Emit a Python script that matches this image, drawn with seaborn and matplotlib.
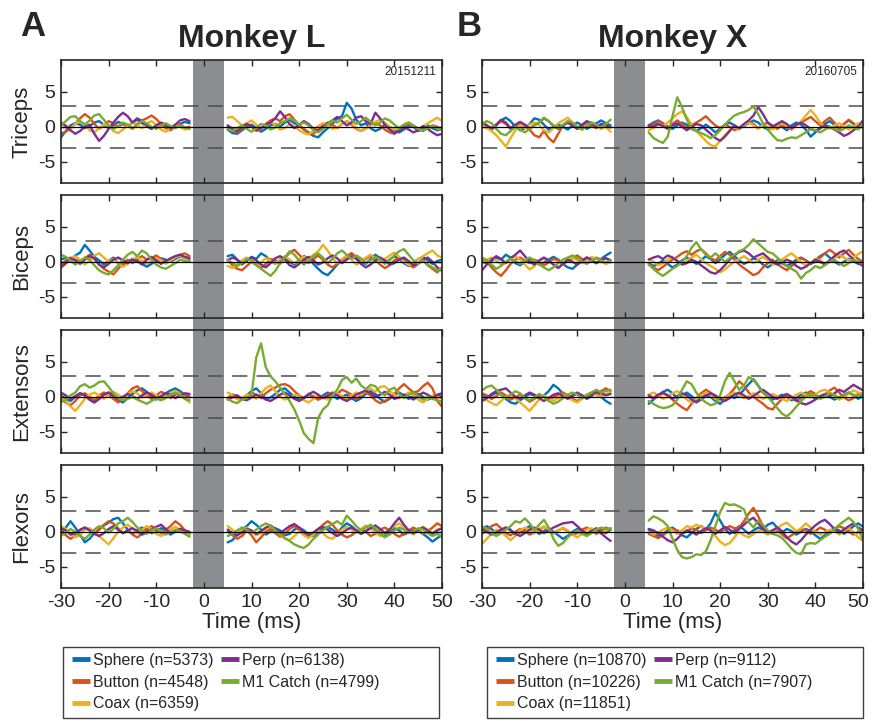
import numpy as np
import pandas as pd
import matplotlib
matplotlib.use("Agg")
import matplotlib.pyplot as plt
from matplotlib.patches import Rectangle
from matplotlib.lines import Line2D
from matplotlib.transforms import blended_transform_factory, ScaledTranslation
import seaborn as sns

conditions = ["Sphere", "Button", "Coax", "Perp", "M1 Catch"]
colors = ["#0072BD", "#D95319", "#EDB120", "#7E2F8E", "#77AC30"]
muscles = ["Triceps", "Biceps", "Extensors", "Flexors"]
monkeys = ["Monkey L", "Monkey X"]
letters = ["A", "B"]
dates = ["20151211", "20160705"]
counts_L = [5373, 4548, 6359, 6138, 4799]
counts_X = [10870, 10226, 11851, 9112, 7907]

pre_start = -30   # first sample (ms) before stim, 1 ms steps
post_start = 5    # first sample (ms) after stim
stim_lo, stim_hi = -2.3, 4.2
thresh = 3
xticks = [-30, -20, -10, 0, 10, 20, 30, 40, 50]
yticks = [-5, 0, 5]

# condition -> (pre samples, post samples)
L_TRICEPS = {
    "Sphere": ([-1.5,-0.6,0.2,0.5,0.3,-0.2,0.1,0.6,0.8,0.3,-0.2,0.2,0.7,0.4,0.0,0.6,1.0,0.5,0.1,-0.3,0.2,0.5,0.1,-0.4,0.0,0.4,0.7,0.5],
               [-0.4,-0.9,-1.0,-0.5,0.0,0.3,-0.2,-0.7,-0.3,0.2,0.4,0.0,0.6,1.0,0.5,0.2,-0.4,-0.9,-1.3,-1.5,-0.8,-0.2,0.4,1.2,1.5,3.4,2.6,1.0,0.2,0.5,-0.2,-0.6,-0.3,0.3,0.0,-0.5,-0.8,-0.4,0.2,0.0,-0.6,-0.3,0.2,-0.2,-0.5,-0.3]),
    "Button": ([-1.0,-0.7,-0.2,0.4,1.2,1.8,1.3,0.4,-0.3,0.2,0.8,0.5,0.0,0.4,0.2,-0.3,0.3,0.9,1.2,1.6,1.1,0.4,-0.2,-0.5,0.1,0.3,-0.1,0.0],
               [0.0,-0.5,-0.8,-0.2,0.3,0.0,-0.6,-0.3,0.4,0.9,1.2,0.8,1.5,1.8,1.0,0.2,-0.3,-0.8,-1.0,-0.4,0.2,0.6,0.3,-0.2,0.4,0.8,0.3,-0.3,-0.6,-0.2,0.3,0.6,0.2,-0.4,-0.8,-1.0,-0.5,0.0,0.4,0.1,-0.3,-0.6,-0.2,0.2,0.0,-0.3]),
    "Coax": ([0.5,0.2,-0.3,0.4,0.8,0.3,-0.5,-0.8,-0.2,0.4,0.1,-0.6,-0.9,-0.4,0.2,0.6,0.3,-0.2,0.5,0.8,0.3,-0.4,-0.7,-0.2,0.3,0.0,-0.4,-0.2],
             [1.3,1.4,0.8,0.2,0.5,0.9,0.3,-0.3,0.2,0.6,0.3,-0.4,-0.2,0.4,0.0,-0.5,-0.9,-1.1,-0.6,0.1,0.5,0.2,-0.3,-0.1,0.4,0.8,0.5,-0.2,-0.6,-0.3,0.2,0.7,1.0,0.6,0.0,-0.4,-0.2,0.3,0.6,0.2,-0.3,0.0,0.5,0.9,1.3,0.8]),
    "Perp": ([0.6,0.1,-0.5,-1.0,-0.6,0.0,0.3,-1.0,-2.0,-1.3,-0.3,0.6,1.4,2.0,1.5,0.6,1.2,0.8,0.2,-0.3,0.2,0.6,0.3,-0.2,0.3,0.9,1.1,0.8],
             [0.2,-0.3,-0.6,0.0,0.4,0.1,-0.4,-0.2,0.3,0.6,1.2,2.2,1.4,0.4,-0.2,0.3,0.8,0.4,-0.3,-0.6,0.0,0.5,0.9,1.4,0.8,0.2,0.6,1.3,1.5,0.8,0.4,2.0,1.2,0.3,-0.4,-0.9,-0.6,0.0,-0.4,-0.8,-0.5,0.1,-0.3,-0.8,-1.2,-1.0]),
    "M1 Catch": ([0.2,0.8,1.4,1.5,0.8,0.3,0.9,1.6,1.8,1.0,0.2,-0.3,0.1,0.6,0.3,-0.2,0.4,0.8,0.5,0.0,-0.3,0.2,0.5,0.1,-0.2,0.2,-0.1,-0.3],
                 [-0.3,-0.6,-0.2,0.2,-0.3,-0.7,-0.2,0.4,0.2,-0.4,-0.1,0.5,0.8,1.2,0.9,0.3,0.6,0.2,-0.5,-0.8,-0.3,0.4,0.9,0.6,1.2,1.7,1.0,0.4,0.8,1.3,0.7,0.2,0.6,1.2,0.9,0.3,-0.2,0.3,0.6,0.2,-0.3,-0.5,-0.2,0.1,-0.3,-0.4]),
}

L_BICEPS = {
    "Sphere": ([0.3,0.6,0.2,0.9,1.3,2.4,1.6,0.7,0.2,-0.4,0.1,0.6,-0.2,-0.6,0.0,0.4,0.2,-0.3,-0.7,-0.3,0.2,0.5,0.3,0.0,0.4,0.8,0.5,0.2],
               [0.8,1.0,0.3,-0.4,0.2,0.7,0.4,1.2,0.8,0.1,-0.3,0.2,0.5,0.0,-0.4,0.3,0.8,0.5,-0.3,-1.0,-1.6,-1.9,-1.2,-0.4,0.2,0.8,1.2,0.6,0.0,-0.3,0.4,1.0,0.5,-0.2,0.3,0.8,0.4,-0.2,-0.6,-0.2,0.4,0.7,0.2,-0.3,0.1,0.3]),
    "Button": ([-0.5,0.2,0.6,0.3,0.0,0.5,1.0,0.4,-0.4,-1.0,-1.4,-1.8,-1.0,-0.2,0.3,-0.2,0.4,0.8,0.3,0.5,0.9,0.4,-0.2,0.3,0.7,1.0,1.2,0.8],
               [0.3,-0.5,-1.0,-1.2,-0.6,0.0,-0.5,-0.9,-0.3,0.4,0.2,-0.3,0.5,1.3,1.7,1.0,0.3,-0.2,0.4,0.9,0.3,-0.4,-0.8,-0.3,0.3,0.8,1.2,0.6,0.0,0.4,0.9,0.3,-0.4,-0.9,-0.5,0.2,0.6,0.3,-0.4,-0.8,-0.3,0.2,-0.5,-1.0,-1.5,-0.8]),
    "Coax": ([-0.8,-0.3,0.4,0.8,0.3,-0.4,0.2,0.9,1.2,0.6,0.0,0.4,-0.2,-0.7,-0.3,0.3,0.7,0.2,-0.3,0.1,0.5,0.2,-0.3,0.2,0.6,0.9,0.5,0.0],
             [-0.6,-0.9,-0.3,0.2,0.6,0.1,-0.4,-0.1,0.5,0.2,-0.3,0.4,0.8,0.3,-0.2,0.3,0.7,0.4,1.0,1.5,2.4,1.6,0.5,-0.2,0.4,0.9,0.3,-0.4,0.0,0.6,1.0,0.5,-0.1,0.4,0.9,1.3,0.7,0.0,-0.5,-0.2,0.4,0.8,1.2,1.6,0.9,0.6]),
    "Perp": ([-0.8,-0.2,0.5,0.2,-0.3,0.3,0.8,0.5,-0.4,-0.8,-0.3,0.3,0.6,0.2,-0.2,0.3,0.1,-0.4,0.3,0.7,0.2,-0.3,0.1,0.5,0.8,1.0,0.7,0.5],
             [0.2,0.6,0.3,-0.3,0.1,0.6,0.2,-0.4,-0.8,-0.2,0.5,0.8,0.3,-0.5,-0.8,-0.3,0.3,0.7,0.2,-0.4,-0.1,0.5,0.9,0.5,-0.2,0.3,0.8,0.4,-0.3,-0.8,-0.4,0.2,0.6,0.2,-0.4,-0.2,0.3,0.6,0.1,-0.5,-0.2,0.3,0.6,0.0,-0.8,-1.3]),
    "M1 Catch": ([1.0,0.7,0.2,-0.4,0.1,0.6,0.3,-0.5,-1.2,-1.6,-1.8,-1.2,-0.5,0.3,1.0,1.4,0.8,1.6,1.2,0.3,-0.4,-0.8,-1.0,-0.6,-0.2,0.3,0.1,0.0],
                 [0.3,-0.2,-0.6,-0.2,0.4,0.2,-0.4,-1.0,-1.5,-2.0,-1.3,-0.2,0.6,1.5,1.0,0.2,-0.4,0.2,0.8,1.2,0.6,-0.2,0.4,1.2,1.6,1.0,0.4,0.9,0.5,-0.2,0.2,0.7,0.3,-0.3,0.2,0.9,1.5,1.8,1.0,0.2,-0.3,0.2,-0.4,-0.8,-1.2,-1.0]),
}

L_EXTENSORS = {
    "Sphere": ([0.2,-0.3,-0.6,0.0,0.5,0.2,-0.4,-0.8,-0.3,0.3,0.6,0.1,-0.5,-0.8,-0.2,0.4,0.9,1.2,0.7,0.1,-0.4,0.0,0.5,0.9,1.2,0.8,0.3,0.0],
               [-0.2,0.3,0.1,-0.3,0.2,0.8,1.2,0.5,-0.3,-0.1,0.4,1.0,1.2,0.6,0.0,-0.4,-0.1,0.3,0.0,-0.4,0.2,0.6,0.2,-0.3,0.0,0.3,-0.2,-0.6,-0.2,0.4,0.8,0.4,-0.3,-0.7,-0.3,0.3,0.6,0.2,-0.3,0.1,0.4,0.0,-0.4,-0.1,0.2,0.0]),
    "Button": ([-0.3,-0.8,-1.2,-0.6,0.2,0.5,0.0,-0.5,0.2,0.6,0.3,-0.3,-0.8,-0.2,0.5,1.2,1.5,0.8,0.2,-0.3,0.2,0.7,0.4,-0.2,0.3,0.6,0.2,-0.1],
               [-0.2,0.3,0.0,-0.4,0.2,0.6,0.3,-0.2,0.5,1.0,1.3,1.7,1.8,1.5,0.8,0.2,-0.2,0.3,0.1,-0.4,-0.1,0.3,0.6,0.4,1.0,0.7,0.3,-0.3,0.2,0.6,0.2,-0.5,-0.9,-0.6,-0.2,0.4,1.2,1.8,1.2,0.6,0.8,1.5,2.0,1.2,-0.6,-1.4]),
    "Coax": ([0.0,-0.6,-1.4,-2.0,-1.2,-0.3,0.3,0.6,0.2,-0.3,0.4,0.7,0.3,-0.2,0.4,0.8,0.5,-0.1,0.3,0.6,0.2,-0.3,0.1,0.5,0.8,0.4,-0.3,-0.8],
             [0.6,0.2,-0.4,-0.2,0.3,0.1,-0.3,0.5,1.2,1.6,0.8,0.0,-0.4,-0.1,0.3,0.1,-0.5,-0.8,-0.3,0.2,-0.1,-0.4,0.2,0.5,0.1,-0.3,0.2,0.6,0.3,0.9,1.2,0.7,1.4,1.5,0.8,0.3,-0.2,0.2,0.6,0.2,-0.4,-0.8,-0.3,0.2,0.0,-0.3]),
    "Perp": ([0.6,0.2,-0.3,0.1,0.5,0.2,-0.4,-0.8,-0.3,0.3,0.6,0.2,-0.3,0.0,0.4,0.1,-0.3,0.2,0.6,0.3,-0.2,0.1,0.5,0.3,-0.2,0.2,0.5,0.4],
             [-0.4,-0.1,0.2,-0.3,-0.5,-0.1,0.3,0.0,-0.4,-0.6,-0.2,0.3,0.6,0.2,-0.3,-0.6,-0.2,0.4,0.7,0.3,-0.2,0.1,0.5,0.2,-0.3,-0.6,-0.2,0.3,0.6,0.9,0.5,0.0,0.3,0.7,0.3,-0.3,-0.1,0.3,0.0,-0.4,0.1,0.6,0.3,-0.2,0.3,0.5]),
    "M1 Catch": ([-0.8,-0.4,0.2,0.6,1.5,1.8,1.3,1.6,2.1,2.2,1.4,0.5,-0.2,-0.5,-0.3,0.0,-0.4,-0.7,-1.0,-0.6,-0.2,-0.5,-0.2,0.3,0.6,0.3,-0.3,-0.5],
                 [-0.3,-0.7,-0.9,-0.4,-0.2,0.3,5.6,7.6,4.2,2.9,2.2,1.3,0.4,-0.6,-1.8,-3.4,-5.2,-6.0,-6.6,-3.0,-1.8,-1.2,0.2,1.0,2.4,2.8,2.0,2.6,1.6,1.1,1.7,1.5,0.6,0.2,1.0,1.3,0.4,-0.2,0.3,0.6,0.1,-0.4,0.0,-0.3,-0.5,-0.7]),
}

L_FLEXORS = {
    "Sphere": ([-0.2,0.6,1.5,0.6,-0.4,-1.5,-1.0,-0.2,0.3,0.9,1.3,1.8,2.0,1.2,0.3,-0.3,0.2,0.6,0.3,-0.2,0.1,0.5,0.2,-0.4,0.0,0.4,0.2,-0.2],
               [-1.5,-1.2,-0.4,0.3,0.8,1.5,1.0,0.3,-0.4,0.0,0.5,0.2,-0.5,-0.3,0.3,0.6,0.2,-0.4,-0.6,-0.1,0.4,0.7,0.3,-0.2,0.6,1.2,0.8,0.2,-0.3,0.1,0.6,0.3,-0.2,-0.5,0.0,0.5,0.2,-0.4,-0.1,0.4,0.2,-0.3,-0.8,-1.4,-0.9,-0.5]),
    "Button": ([0.2,-0.5,-1.0,-0.5,0.2,0.6,0.3,-0.2,0.4,1.0,1.5,1.2,0.5,-0.2,0.2,-0.4,-0.8,-0.3,0.3,0.8,0.4,-0.2,0.3,0.8,1.5,1.0,0.2,-0.3],
               [0.0,-0.5,-1.0,-0.6,0.2,-0.5,-1.5,-0.8,0.0,0.4,-0.2,-0.7,-0.3,0.4,0.8,0.3,-0.3,-0.6,-0.2,0.4,1.0,1.5,1.0,0.2,-0.4,-0.8,-0.5,0.0,0.4,0.0,-0.6,-0.3,0.3,0.6,0.2,-0.3,-0.7,-0.3,0.2,0.6,0.2,-0.3,0.1,0.6,1.2,0.8]),
    "Coax": ([0.8,0.4,-0.3,-0.8,-0.4,0.3,0.5,0.0,-0.6,-1.2,-1.8,-0.9,0.0,0.6,1.0,0.5,-0.2,0.3,0.8,0.4,-0.3,-0.6,-0.2,0.4,0.7,0.3,0.0,-0.5],
             [0.8,0.3,-0.3,0.2,0.6,0.1,-0.5,-0.2,0.4,0.8,0.3,-0.4,-1.0,-1.2,-0.6,0.0,-0.5,-0.9,-0.4,0.2,-0.2,-0.8,-1.0,-0.4,0.3,0.7,0.3,-0.2,0.4,0.9,0.5,-0.1,-0.6,-0.3,0.3,0.8,1.2,0.6,0.0,-0.4,0.2,0.7,0.3,-0.2,0.3,0.5]),
    "Perp": ([0.5,0.2,-0.4,-0.2,0.3,0.6,0.2,-0.3,-0.6,-0.2,0.4,0.8,0.3,-0.2,0.2,0.5,0.1,-0.4,-0.1,0.3,0.7,1.0,0.4,-0.2,0.1,0.4,0.2,0.0],
             [0.3,-0.2,-0.5,-0.1,0.4,0.2,-0.3,0.1,0.6,0.9,0.4,-0.2,0.3,0.8,1.1,0.6,0.0,-0.4,-0.1,0.4,0.7,0.3,-0.2,-0.6,-0.2,0.3,0.6,0.2,-0.3,0.1,0.5,0.9,0.4,-0.2,0.3,1.2,2.0,1.0,0.2,-0.2,0.3,0.6,0.2,-0.3,0.2,0.5]),
    "M1 Catch": ([-0.6,-0.1,0.4,0.0,-0.6,-1.0,-0.4,0.3,0.8,0.5,-0.1,0.4,1.2,1.5,2.0,1.4,0.6,0.2,-0.3,0.2,0.5,0.1,-0.4,0.0,0.3,0.1,-0.3,-0.7],
                 [-0.6,-0.3,0.2,0.6,0.3,-0.2,0.3,0.8,1.2,0.8,0.2,-0.4,-0.9,-1.3,-1.8,-2.1,-2.3,-1.8,-1.0,-0.4,0.2,0.7,1.1,1.5,1.0,2.3,1.6,0.8,0.2,0.6,1.0,0.5,-0.3,-0.8,-0.4,0.2,0.6,0.3,-0.2,0.1,0.5,0.3,-0.2,-0.6,-0.3,-0.7]),
}

X_TRICEPS = {
    "Sphere": ([0.4,0.0,-0.4,0.2,0.9,1.3,0.8,0.0,-0.5,-0.2,0.4,1.2,1.0,0.3,-0.4,-0.1,0.3,0.0,-0.4,0.2,0.6,0.2,-0.3,0.1,0.5,0.9,0.5,0.2],
               [0.2,0.6,0.9,0.5,0.0,-0.3,0.2,0.6,0.3,-0.3,-0.6,-0.2,0.3,-0.2,-0.8,-0.3,0.3,0.6,0.2,-0.3,0.1,0.5,0.9,0.6,0.0,-0.4,-0.1,0.4,0.0,-0.5,0.2,0.6,0.3,-0.4,-1.4,-0.8,-0.2,0.4,0.8,0.3,-0.3,0.4,0.9,0.4,-0.2,0.3]),
    "Button": ([0.6,0.2,-0.3,0.3,0.8,0.4,-0.3,0.0,0.6,0.2,-0.4,-1.2,-1.5,-0.6,-1.6,-2.2,-1.0,0.2,0.6,0.3,-0.3,0.2,0.5,0.1,-0.2,0.3,0.2,0.0],
               [0.0,0.3,0.8,0.5,-0.1,0.4,0.9,0.4,-0.2,0.2,0.6,1.0,1.5,0.8,0.2,-0.2,0.3,0.0,-0.5,-0.2,0.3,0.7,0.4,-0.2,0.3,0.6,0.2,-0.3,0.2,0.0,-0.4,0.2,0.6,1.0,1.4,0.8,0.2,0.8,1.3,0.6,-0.2,0.4,1.0,0.5,-0.1,0.4]),
    "Coax": ([0.3,-0.2,-0.6,-1.2,-2.0,-2.8,-1.6,-0.5,0.2,-0.2,0.3,0.6,0.3,-0.5,-0.8,-0.2,0.5,0.9,1.3,0.6,0.0,-0.4,0.2,0.6,0.2,-0.3,0.0,-0.7],
             [-0.5,-0.2,0.3,0.1,0.6,1.2,1.8,2.2,1.4,0.3,-0.6,-1.3,-2.0,-2.6,-2.8,-2.0,-1.2,-0.5,0.0,-0.4,0.2,0.6,0.2,-0.3,0.3,0.0,-0.4,0.2,0.5,0.1,-0.3,0.2,0.8,1.6,2.4,1.6,0.6,0.0,-0.3,0.2,0.5,0.1,-0.4,0.0,0.5,0.3]),
    "Perp": ([0.6,0.2,-0.2,0.3,1.0,0.6,-0.2,0.3,0.7,0.3,-0.3,0.2,0.6,1.2,0.8,0.1,-0.3,0.2,0.6,0.2,-0.3,0.3,0.8,0.5,0.0,0.4,0.2,-0.1],
             [0.2,0.0,0.4,0.1,-0.3,0.2,0.5,0.0,-0.5,0.0,0.4,0.2,-0.4,-1.0,-1.6,-2.0,-1.4,-0.6,0.2,-0.2,0.4,0.9,1.6,2.8,1.8,0.6,0.0,0.4,0.8,0.4,-0.2,0.3,0.6,0.2,-0.3,-0.6,-0.2,0.2,0.0,-0.4,-0.8,-1.3,-1.0,-0.5,0.0,0.9]),
    "M1 Catch": ([0.4,0.8,0.5,-0.3,-1.0,-1.2,-0.6,0.0,-0.4,-0.8,-0.3,0.2,0.6,1.3,0.8,0.2,-0.2,0.3,0.8,0.6,0.0,-0.4,0.1,0.6,0.3,-0.2,0.4,1.0],
                 [-0.8,-1.6,-2.0,-2.3,-1.4,1.5,4.2,2.8,1.0,-0.2,-0.6,-0.9,-1.2,-1.6,-1.2,-0.5,0.3,1.0,1.6,1.9,2.1,2.4,2.9,1.8,0.5,-0.4,-1.2,-1.9,-2.0,-1.7,-1.5,-1.6,-1.2,-0.8,-0.3,-0.5,-0.8,-0.4,0.0,-0.3,-0.6,-0.3,0.2,-0.1,-0.4,0.5]),
}

X_BICEPS = {
    "Sphere": ([0.2,-0.3,0.1,0.6,0.3,1.0,0.6,-0.2,-0.5,0.0,0.4,0.2,-0.4,-0.1,0.3,0.7,0.3,-0.3,-0.8,-1.0,-0.4,0.2,0.6,0.2,-0.2,0.4,0.9,1.3],
               [-0.2,-0.6,-0.3,0.2,-0.3,-0.8,-0.4,0.2,0.6,0.2,-0.3,0.2,0.8,0.4,-0.2,0.3,1.0,1.4,0.8,0.2,-0.3,0.0,0.5,0.2,-0.4,-0.8,-0.3,0.2,-0.2,-0.6,-0.2,0.3,0.6,0.2,-0.3,0.2,0.8,1.2,0.6,0.0,-0.4,0.0,0.4,0.1,-0.3,0.2]),
    "Button": ([0.5,0.0,-0.8,-1.5,-2.0,-1.2,-0.3,0.3,0.6,0.2,-0.2,0.3,0.0,-0.5,-0.1,0.4,0.2,-0.3,0.1,0.5,0.9,0.4,-0.2,0.2,0.6,0.3,0.5,0.2],
               [-0.3,-0.8,-1.2,-0.7,-0.2,0.3,0.7,1.2,1.5,1.0,1.5,1.8,1.2,0.5,0.2,0.8,1.4,1.0,0.3,-0.4,-0.9,-1.4,-1.9,-1.6,-0.8,-0.2,0.3,-0.3,-0.8,-1.2,-0.6,0.0,0.5,0.2,-0.3,0.0,0.6,1.2,1.7,1.2,0.6,1.2,1.7,1.0,0.4,0.0]),
    "Coax": ([-0.3,0.3,0.6,0.2,-0.4,-0.1,0.4,0.8,0.3,-0.4,-1.1,-0.6,0.1,0.5,0.2,-0.4,-0.8,-0.3,0.3,0.6,0.2,-0.2,0.3,0.7,0.4,0.0,-0.3,-0.1],
             [0.4,0.0,-0.5,-0.2,0.3,0.6,0.2,-0.3,0.1,0.6,1.0,0.4,-0.2,-0.6,-1.0,-1.5,-1.1,-0.5,0.0,0.4,0.8,0.3,-0.2,0.3,0.7,0.2,-0.4,-0.1,0.3,0.8,1.2,0.6,-0.1,-0.5,-0.2,0.4,0.2,-0.3,0.2,0.6,1.0,0.6,0.2,0.6,1.1,1.5]),
    "Perp": ([-1.2,-0.4,0.3,0.8,0.4,-0.2,0.5,1.0,1.6,0.8,0.0,-0.4,0.2,0.6,0.2,-0.4,-0.9,-0.3,0.3,0.0,-0.4,0.1,0.6,0.3,-0.2,0.2,0.5,0.2],
             [0.3,0.6,0.8,0.4,0.9,0.6,0.1,-0.4,-0.2,0.3,0.0,-0.5,-1.0,-1.5,-1.7,-1.2,-0.5,0.3,0.9,1.4,1.6,1.2,0.6,0.9,1.2,0.6,0.0,-0.4,-0.1,0.3,0.0,-0.6,-1.0,-0.7,-0.2,0.3,0.0,-0.4,0.2,0.8,1.3,1.6,1.0,0.3,-0.2,-0.6]),
    "M1 Catch": ([0.6,0.2,-0.4,-1.0,-0.6,0.0,0.4,0.1,-0.3,0.2,0.6,0.2,-0.4,-0.8,-1.2,-0.8,-0.2,0.3,0.6,0.9,0.5,0.0,-0.3,0.2,0.5,0.2,-0.1,0.2],
                 [-0.4,-1.0,-1.6,-2.0,-1.5,-1.0,-0.6,0.0,0.8,2.0,2.8,1.8,1.0,0.6,1.2,0.6,0.0,0.5,1.0,1.5,1.8,2.4,3.2,2.6,2.0,1.4,1.2,0.6,0.0,-0.6,-1.0,-1.4,-2.4,-1.6,-1.2,-0.6,-0.9,-0.5,0.0,0.3,-0.2,-0.6,-0.2,0.3,0.0,-0.3]),
}

X_EXTENSORS = {
    "Sphere": ([0.3,-0.2,0.2,0.6,0.3,-0.3,-0.8,-1.0,-0.5,0.0,0.4,0.2,-0.3,0.2,0.8,1.7,1.2,0.4,-0.2,0.1,0.5,0.2,-0.3,0.1,0.5,0.0,-0.6,-1.0],
               [-1.0,-0.4,0.2,0.7,1.0,0.5,-0.2,0.2,0.6,0.1,-0.5,-0.2,0.3,0.0,-0.6,-1.0,-0.4,0.2,-0.2,0.3,1.0,1.8,2.5,1.6,0.6,0.0,-0.4,-0.1,0.3,0.0,-0.5,-0.2,0.3,0.6,0.2,-0.3,0.1,0.4,0.0,-0.4,-0.1,0.3,0.6,0.2,-0.3,0.2]),
    "Button": ([0.5,0.2,-0.3,0.1,0.6,0.2,-0.4,-0.1,0.3,-0.2,-0.7,-0.3,0.2,0.0,-0.4,-0.1,0.3,0.6,0.2,-0.3,-0.6,-0.2,0.3,0.6,0.3,0.8,1.2,0.8],
               [0.2,-0.3,0.1,0.5,0.2,-0.4,-1.0,-1.5,-1.9,-1.0,-0.2,0.5,1.0,0.6,0.0,-0.4,-0.1,0.4,1.2,2.2,1.6,0.6,0.0,-0.5,-1.0,-1.6,-1.8,-1.0,-0.3,0.2,-0.2,-0.6,-0.2,0.4,0.8,0.4,-0.2,0.3,0.9,1.3,0.6,-0.1,-0.5,-0.2,0.4,0.2]),
    "Coax": ([0.0,-0.5,-0.9,-1.2,-0.6,0.0,0.3,-0.2,-0.8,-1.4,-2.0,-1.2,-0.4,0.2,-0.2,-0.6,-0.2,0.3,0.0,-0.5,-0.8,-0.3,0.2,0.5,0.2,0.0,0.4,0.6],
             [0.3,0.6,0.2,-0.3,0.0,0.5,0.8,0.3,-0.4,-0.8,-0.3,0.2,0.6,0.2,-0.3,-0.6,-0.2,0.3,0.6,0.2,-0.2,0.1,0.5,0.2,-0.3,0.0,0.4,0.1,-0.3,-0.6,-0.2,0.3,0.6,0.3,-0.1,0.3,0.8,1.0,0.6,0.0,-0.4,-0.1,0.5,0.9,0.6,0.4]),
    "Perp": ([-0.6,-0.2,0.4,0.8,1.0,1.2,0.6,0.0,-0.3,0.2,0.6,0.3,-0.2,-0.6,-0.2,0.3,0.5,0.1,-0.3,0.2,0.6,0.2,-0.2,0.3,0.7,0.5,0.2,0.4],
             [0.2,-0.2,0.3,0.6,0.2,-0.3,0.1,0.5,0.2,-0.4,-0.8,-0.4,0.1,0.5,0.2,-0.3,-0.6,-0.2,0.3,0.6,0.2,-0.3,0.1,0.6,1.0,0.5,0.0,-0.3,0.1,0.4,0.0,-0.5,-0.9,-1.1,-0.8,-0.4,0.0,0.3,0.1,0.5,1.0,0.7,1.2,1.7,1.3,0.9]),
    "M1 Catch": ([0.9,1.4,1.6,1.0,0.3,-0.2,0.3,0.8,0.5,-0.2,-0.5,-0.1,0.4,0.0,-0.6,-1.0,-0.7,-0.2,0.3,0.6,0.3,-0.2,0.1,0.6,1.0,0.6,0.8,1.0],
                 [-0.6,-1.0,-1.4,-1.6,-1.5,-1.2,-0.4,1.0,2.2,1.8,0.6,-0.3,-0.8,-1.2,-1.0,0.2,2.2,3.4,2.2,1.0,1.6,2.8,2.4,1.5,0.6,0.0,-0.8,-1.6,-2.4,-2.8,-2.2,-1.4,-0.6,0.0,0.4,0.2,-0.3,0.0,0.5,0.3,-0.2,0.2,0.6,0.3,0.1,0.5]),
}

X_FLEXORS = {
    "Sphere": ([0.3,0.8,0.4,-0.2,0.2,0.6,0.3,-0.4,-0.1,0.4,0.8,0.3,-0.3,0.1,0.5,0.0,-0.5,-1.0,-0.6,0.0,0.4,0.2,-0.3,0.1,0.5,0.2,-0.2,0.3],
               [0.3,-0.2,-0.6,-0.3,0.2,0.6,0.1,-0.5,-0.8,-0.2,0.4,0.8,0.3,1.2,2.7,1.6,0.4,-0.3,0.2,0.8,0.3,-0.3,0.2,0.6,0.3,1.0,1.3,0.6,-0.1,0.4,0.1,-0.4,0.0,0.4,0.1,-0.5,-1.0,-0.5,0.1,0.5,0.2,-0.3,0.2,0.8,1.2,0.7]),
    "Button": ([-0.3,0.2,0.8,1.1,0.5,-0.2,-0.5,0.0,0.4,0.1,-0.4,-0.1,0.3,0.7,0.3,-0.2,0.2,0.5,0.1,-0.4,-0.2,0.3,0.6,0.2,-0.3,0.1,0.6,0.3],
               [-0.3,-0.6,-0.9,-0.5,0.0,0.4,0.2,-0.3,0.1,0.5,0.3,-0.2,0.2,0.6,0.3,-0.1,0.4,0.8,0.5,0.6,1.5,2.6,3.4,2.2,0.8,0.0,-0.3,0.2,-0.4,-0.9,-0.5,0.0,0.4,0.2,-0.3,0.1,0.6,0.3,-0.2,0.3,0.8,0.5,0.0,-0.4,0.0,0.3]),
    "Coax": ([-1.7,-1.0,-0.3,0.3,0.0,-0.6,-1.2,-0.6,0.2,0.6,0.3,-0.2,0.4,0.8,0.3,-0.3,0.1,0.6,0.2,-0.4,-0.8,-0.3,0.3,0.5,0.1,-0.3,0.2,0.5],
             [0.0,-0.4,-0.1,0.3,0.6,0.2,-0.3,0.2,0.8,0.6,1.0,0.7,0.4,0.2,-0.6,-1.4,-1.9,-1.6,-0.8,0.0,-0.5,-0.8,-0.3,0.2,0.0,-0.4,-0.1,0.5,1.0,1.3,0.7,0.1,0.5,1.2,0.6,0.0,-0.4,-0.1,0.3,0.1,-0.4,0.2,0.5,0.0,-0.8,-1.3]),
    "Perp": ([0.4,0.0,-0.4,-0.1,0.3,0.6,0.2,-0.3,-0.6,-0.2,0.3,0.6,0.3,-0.2,0.2,0.6,0.9,1.2,1.3,1.4,0.8,0.2,-0.3,0.1,0.4,-0.2,-0.8,-1.3],
             [0.4,0.2,-0.2,-0.7,-1.2,-1.5,-1.0,-0.3,0.2,0.0,-0.4,0.1,0.5,0.2,-0.3,0.2,0.7,0.3,-0.2,0.4,1.0,1.6,2.0,1.2,0.4,-0.1,0.2,0.6,0.1,-0.8,-1.4,-1.8,-1.2,-0.4,0.3,0.9,1.4,1.7,1.1,0.4,-0.1,0.3,0.8,1.2,0.6,0.2]),
    "M1 Catch": ([0.8,0.4,-0.2,-0.6,-0.2,0.3,0.8,1.5,1.3,1.9,1.2,0.2,1.0,1.7,0.6,-1.0,-2.0,-1.6,-0.8,-0.2,0.2,-0.3,-0.6,-0.2,0.3,0.6,0.4,0.5],
                 [1.6,2.2,1.9,1.5,0.8,-1.0,-2.6,-3.6,-3.8,-3.6,-3.2,-3.3,-2.8,-1.2,0.8,2.8,4.1,3.8,3.9,3.6,3.2,1.4,0.6,1.6,1.0,0.2,-0.3,-0.5,-0.9,-1.6,-2.4,-3.0,-3.2,-1.8,-1.6,-1.7,-1.2,-0.7,-0.3,0.4,1.0,1.5,2.0,1.4,0.4,-1.2]),
}

panels = [[L_TRICEPS, L_BICEPS, L_EXTENSORS, L_FLEXORS],
          [X_TRICEPS, X_BICEPS, X_EXTENSORS, X_FLEXORS]]


def panel_frame(panel):
    rows = []
    for cond in conditions:
        pre, post = panel[cond]
        for seg, (start, vals) in enumerate([(pre_start, pre), (post_start, post)]):
            for i, v in enumerate(vals):
                rows.append((cond, f"{cond}-{seg}", start + i, v))
    return pd.DataFrame(rows, columns=["cond", "seg", "time", "value"])


sns.set_style("ticks")
plt.rcParams["font.family"] = ["Liberation Sans", "DejaVu Sans"]
plt.rcParams["axes.unicode_minus"] = False

W, H = 872, 721
fig = plt.figure(figsize=(W / 100, H / 100), dpi=100)
palette = dict(zip(conditions, colors))

col_left = [61, 482]
ax_w = 381
row_top = [60, 195, 330, 465]
ax_h = 123
frame_col = "#262626"

for c in range(2):
    axes = []
    for r in range(4):
        ax = fig.add_axes([col_left[c] / W, 1 - (row_top[r] + ax_h) / H, ax_w / W, ax_h / H])
        ax.set_facecolor("none")
        for t in (thresh, -thresh):
            ax.axhline(t, color="#4d4d4d", lw=1.1, dashes=(10, 6), zorder=1)
        sns.lineplot(data=panel_frame(panels[c][r]), x="time", y="value", hue="cond",
                     units="seg", estimator=None, hue_order=conditions, palette=palette,
                     lw=1.7, legend=False, sort=False, ax=ax, zorder=2)
        ax.axhline(0, color="black", lw=0.9, zorder=3)
        ax.set_xlim(-30, 50)
        ax.set_ylim(-8, 9.5)
        ax.set_xticks(xticks)
        ax.set_yticks(yticks)
        ax.tick_params(direction="in", top=True, right=True, length=4, width=1,
                       labelsize=14, colors=frame_col, pad=4)
        for s in ax.spines.values():
            s.set_color(frame_col)
            s.set_linewidth(1.2)
        if c == 0:
            ax.set_ylabel(muscles[r], fontsize=16, labelpad=4)
        else:
            ax.set_ylabel("")
        if r < 3:
            ax.set_xticklabels([])
            ax.set_xlabel("")
        else:
            ax.set_xlabel("Time (ms)", fontsize=16, labelpad=1)
            if c == 1:
                # keep the last label inside the figure
                last = ax.get_xticklabels()[-1]
                last.set_horizontalalignment("right")
                last.set_transform(last.get_transform() +
                                   ScaledTranslation(6 / 100, 0, fig.dpi_scale_trans))
        axes.append(ax)

    axes[0].set_title(monkeys[c], fontsize=23, fontweight="bold", pad=9)
    axes[0].text(0.985, 0.9, dates[c], transform=axes[0].transAxes, ha="right",
                 va="center", fontsize=8.5, color=frame_col)

    # stimulation window spans all four rows
    tr = blended_transform_factory(axes[3].transData, fig.transFigure)
    y0 = 1 - (row_top[3] + ax_h) / H
    y1 = 1 - row_top[0] / H
    fig.add_artist(Rectangle((stim_lo, y0), stim_hi - stim_lo, y1 - y0, transform=tr,
                             facecolor="#8c8d91", edgecolor="none", zorder=-1))

    fig.text((20 if c == 0 else 457) / W, 1 - 26 / H, letters[c], fontsize=25,
             fontweight="bold", va="center", ha="left")

    # legend box
    counts = counts_L if c == 0 else counts_X
    bx = 63 if c == 0 else 487
    fig.add_artist(Rectangle((bx / W, 3 / H), 376 / W, 71 / H, transform=fig.transFigure,
                             fill=False, edgecolor="#404040", lw=1.0))
    handles = [Line2D([0], [0], color=col, lw=3.5, solid_capstyle="butt") for col in colors]
    labels = [f"{n} (n={k})" for n, k in zip(conditions, counts)]
    fig.legend(handles, labels, loc="upper left", bbox_to_anchor=((bx + 9) / W, 1 - 653 / H),
               bbox_transform=fig.transFigure, ncol=2, frameon=False, fontsize=11.5,
               handlelength=1.1, handletextpad=0.2, columnspacing=0.5, labelspacing=0.42,
               borderaxespad=0, borderpad=0)

fig.savefig("out.png", dpi=100)
